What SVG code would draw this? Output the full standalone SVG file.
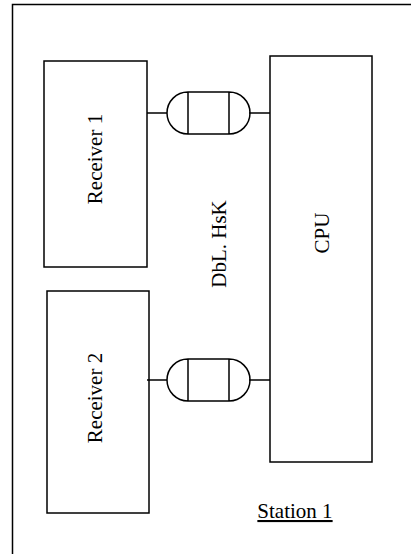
<svg xmlns="http://www.w3.org/2000/svg" width="411" height="554" viewBox="0 0 411 554">
<style>
.box{fill:#fff;stroke:#000;stroke-width:1.5}
.ln{fill:none;stroke:#000;stroke-width:1.5}
.t{font-family:"Liberation Serif","Times New Roman",serif;font-size:21px;fill:#000;text-anchor:middle}
</style>
<rect x="0" y="0" width="411" height="554" fill="#fff"/>
<g id="frame"><rect class="ln" x="12.5" y="4.5" width="420" height="570"/></g>
<g id="receiver1"><rect class="box" x="44" y="61" width="103" height="206"/><text class="t" transform="translate(102,159) rotate(-90)">Receiver 1</text></g>
<g id="receiver2"><rect class="box" x="47" y="291" width="102" height="222"/><text class="t" transform="translate(102,398) rotate(-90)">Receiver 2</text></g>
<g id="cpu"><rect class="box" x="270" y="56" width="102" height="406"/><text class="t" transform="translate(329,233) rotate(-90)">CPU</text></g>
<g id="label"><text class="t" transform="translate(226,244) rotate(-90)">DbL. HsK</text></g>
<g id="station"><text class="t" x="295" y="518" text-decoration="underline">Station 1</text></g>
<g id="connectors">
<path class="ln" d="M147,113H167M249,113H270"/>
<path class="ln" d="M188,92H229A21,21 0 0 1 229,134H188A21,21 0 0 1 188,92ZM188,92V134M229,92V134"/>
<path class="ln" d="M147,380H167M249,380H270"/>
<path class="ln" d="M188,359H229A21,21 0 0 1 229,401H188A21,21 0 0 1 188,359ZM188,359V401M229,359V401"/>
</g>
</svg>
